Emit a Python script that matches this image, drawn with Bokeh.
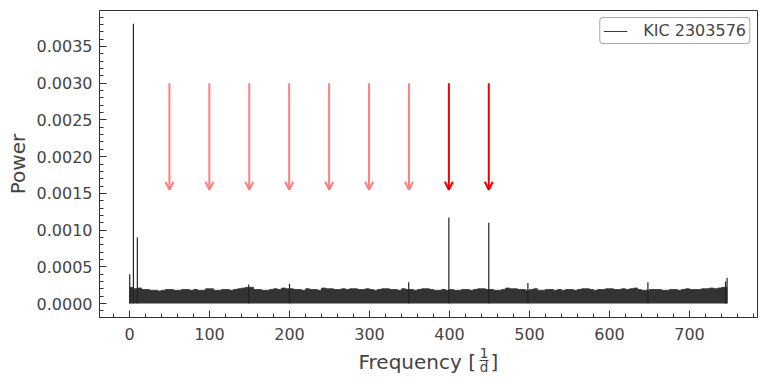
from bokeh.plotting import figure
from bokeh.layouts import column
from bokeh.embed import file_html
from bokeh.resources import INLINE
from bokeh.core.properties import value
from bokeh.models import (Arrow, OpenHead, SingleIntervalTicker, PrintfTickFormatter,
                          Range1d, Legend, LegendItem)

# ---- data ----
env_freq = list(range(0, 750, 5))
env_power = [0.00022, 0.00020, 0.00021, 0.00019, 0.00019, 0.00018, 0.00018, 0.00017, 0.00018, 0.00019,
             0.00019, 0.00018, 0.00018, 0.00019, 0.00019, 0.00018, 0.00019, 0.00018, 0.00018, 0.00020,
             0.00020, 0.00018, 0.00018, 0.00019, 0.00019, 0.00018, 0.00019, 0.00020, 0.00021, 0.00022,
             0.00022, 0.00019, 0.00019, 0.00018, 0.00018, 0.00019, 0.00020, 0.00019, 0.00021, 0.00020,
             0.00020, 0.00019, 0.00019, 0.00018, 0.00020, 0.00019, 0.00019, 0.00018, 0.00021, 0.00020,
             0.00020, 0.00019, 0.00019, 0.00020, 0.00019, 0.00020, 0.00020, 0.00019, 0.00019, 0.00020,
             0.00019, 0.00018, 0.00019, 0.00020, 0.00020, 0.00019, 0.00019, 0.00018, 0.00020, 0.00019,
             0.00019, 0.00018, 0.00019, 0.00020, 0.00020, 0.00019, 0.00018, 0.00018, 0.00019, 0.00018,
             0.00019, 0.00018, 0.00018, 0.00019, 0.00019, 0.00018, 0.00019, 0.00020, 0.00020, 0.00019,
             0.00019, 0.00018, 0.00018, 0.00019, 0.00021, 0.00020, 0.00020, 0.00019, 0.00019, 0.00018,
             0.00019, 0.00020, 0.00018, 0.00018, 0.00019, 0.00019, 0.00018, 0.00019, 0.00018, 0.00019,
             0.00019, 0.00018, 0.00019, 0.00020, 0.00020, 0.00019, 0.00018, 0.00019, 0.00019, 0.00020,
             0.00020, 0.00019, 0.00019, 0.00020, 0.00019, 0.00020, 0.00021, 0.00019, 0.00018, 0.00018,
             0.00019, 0.00019, 0.00019, 0.00018, 0.00018, 0.00019, 0.00019, 0.00018, 0.00019, 0.00020,
             0.00019, 0.00019, 0.00019, 0.00020, 0.00020, 0.00021, 0.00020, 0.00021, 0.00022, 0.00022]
env_end_freq = 747.0

spike_freq = [0.3, 4.9, 9.8, 149.0, 200.0, 349.0, 399.2, 449.1, 498.0, 648.0, 745.0, 747.0]
spike_power = [0.00040, 0.00381, 0.00090, 0.00026, 0.00027, 0.00029, 0.00117, 0.00110,
               0.00028, 0.00029, 0.00030, 0.00035]

arrow_freq = [49.9, 99.8, 149.7, 199.6, 249.5, 299.4, 349.3, 399.2, 449.1]
arrow_strong = [False, False, False, False, False, False, False, True, True]
arrow_top = 0.0030
arrow_bottom = 0.00155

label = "KIC 2303576"
x_label_main = "Frequency ["
x_label_num = "1"
x_label_den = "d"
x_label_close = "]"
y_label = "Power"

TEXT = "#444444"
FRAME = "#333333"
FONT = "DejaVu Sans"

X0, X1 = -37.5, 785.0
Y0, Y1 = -0.00019, 0.00399
LEFT, RIGHT = 99, 10
FW, FH = 658, 307
TOP, BOTTOM = 10, 28
P_H = TOP + FH + 29          # x axis needs ~29 px
W, H = 767, 390

p = figure(frame_width=FW, frame_height=FH, output_backend="svg", toolbar_location=None,
           x_range=Range1d(X0, X1), y_range=Range1d(Y0, Y1),
           min_border_left=LEFT, min_border_right=RIGHT, min_border_top=TOP, min_border_bottom=BOTTOM)
p.grid.visible = False
p.outline_line_color = FRAME
p.outline_line_width = 1
p.background_fill_color = "white"
p.border_fill_color = "white"

# noise band
xs = env_freq + [env_end_freq]
ys = env_power + [env_power[-1]]
p.varea_step(x=xs, y1=[0] * len(xs), y2=ys, step_mode="after", fill_color="#333333")
line_r = p.step(x=xs, y=ys, mode="after", line_color="#3a3a3a", line_width=1)

# spikes
p.segment(x0=spike_freq, y0=[0] * len(spike_freq), x1=spike_freq, y1=spike_power,
          line_color="#222222", line_width=1.2)

# arrows
for f, strong in zip(arrow_freq, arrow_strong):
    col = "#ee0000" if strong else "#ff7f7f"
    p.add_layout(Arrow(end=OpenHead(line_color=col, line_width=2, size=8),
                       x_start=f, y_start=arrow_top, x_end=f, y_end=arrow_bottom,
                       line_color=col, line_width=2))

# axes
for ax in (p.xaxis[0], p.yaxis[0]):
    ax.major_tick_in = 7
    ax.major_tick_out = 0
    ax.minor_tick_in = 4
    ax.minor_tick_out = 0
    ax.major_tick_line_color = FRAME
    ax.minor_tick_line_color = FRAME
    ax.axis_line_color = FRAME
    ax.major_label_text_color = TEXT
    ax.major_label_text_font = FONT
    ax.major_label_text_font_size = "16px"

p.xaxis.ticker = SingleIntervalTicker(interval=100, num_minor_ticks=5)
p.yaxis.ticker = SingleIntervalTicker(interval=0.0005, num_minor_ticks=5)
p.yaxis.formatter = PrintfTickFormatter(format="%.4f")
p.xaxis.major_label_standoff = 10
p.yaxis.major_label_standoff = 7
p.yaxis.axis_label = y_label
p.yaxis.axis_label_text_font = FONT
p.yaxis.axis_label_text_font_size = "20px"
p.yaxis.axis_label_text_font_style = "normal"
p.yaxis.axis_label_text_color = TEXT
p.yaxis.axis_label_standoff = 4

legend = Legend(items=[LegendItem(label=label, renderers=[line_r])], location="top_right")
legend.label_text_font = FONT
legend.label_text_font_size = "16px"
legend.label_text_color = TEXT
legend.border_line_color = "#555555"
legend.border_line_width = 1
legend.margin = 7
legend.padding = 3
legend.glyph_width = 24
legend.glyph_height = 18
legend.label_standoff = 16
legend.label_height = 18
try:
    legend.border_radius = 4
except Exception:
    pass
p.add_layout(legend)

# x-axis label strip (text with a stacked fraction); x shares the frequency scale, y in pixels
H2 = H - P_H
q = figure(frame_width=FW, frame_height=H2, output_backend="svg", toolbar_location=None,
           x_range=p.x_range, y_range=Range1d(H2, 0),
           x_axis_type=None, y_axis_type=None,
           min_border_left=LEFT, min_border_right=RIGHT, min_border_top=0, min_border_bottom=0)
q.grid.visible = False
q.outline_line_color = None
q.background_fill_color = "white"
q.border_fill_color = "white"

def lx(page_x):
    return X0 + (page_x - LEFT) * (X1 - X0) / FW

def ly(page_y, size):
    # the text glyph draws its alphabetic baseline about 0.38 em below y
    return page_y - P_H - 0.38 * size

q.text(x=[lx(358)], y=[ly(370, 20)], text=[x_label_main], text_font=value(FONT), text_font_size="20px",
       text_color=TEXT, text_align="left", text_baseline="alphabetic")
q.text(x=[lx(483.5)], y=[ly(359, 13.5)], text=[x_label_num], text_font=value(FONT), text_font_size="13.5px",
       text_color=TEXT, text_align="center", text_baseline="alphabetic")
q.text(x=[lx(483.5)], y=[ly(373, 13.5)], text=[x_label_den], text_font=value(FONT), text_font_size="13.5px",
       text_color=TEXT, text_align="center", text_baseline="alphabetic")
q.segment(x0=[lx(479)], y0=[361 - P_H], x1=[lx(488)], y1=[361 - P_H], line_color=TEXT, line_width=1)
q.text(x=[lx(490)], y=[ly(370, 20)], text=[x_label_close], text_font=value(FONT), text_font_size="20px",
       text_color=TEXT, text_align="left", text_baseline="alphabetic")

layout = column(p, q, spacing=0)
open("out.html", "w").write(file_html(layout, INLINE))
